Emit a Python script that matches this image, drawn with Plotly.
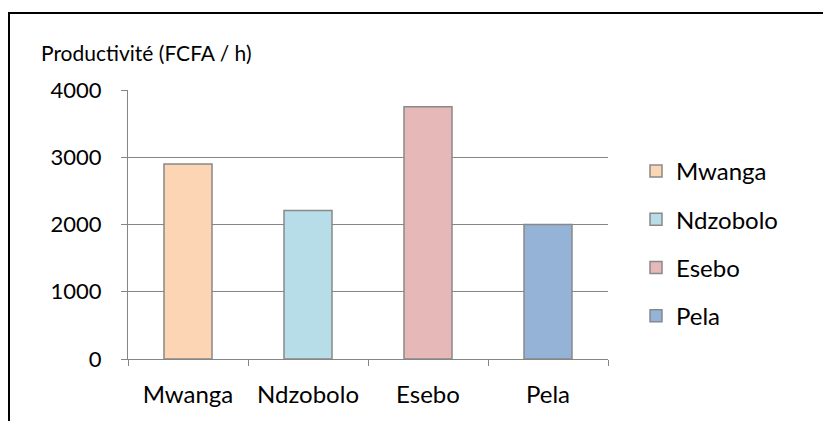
import plotly.graph_objects as go

categories = ["Mwanga", "Ndzobolo", "Esebo", "Pela"]
values = [2900, 2210, 3750, 2000]
colors = ["#FCD5B5", "#B7DEE8", "#E6B9B8", "#95B3D7"]
y_ticks = [0, 1000, 2000, 3000, 4000]
y_title = "Productivité (FCFA / h)"

FONT = "Lato, 'Open Sans', sans-serif"

fig = go.Figure()
for i, (c, v, col) in enumerate(zip(categories, values, colors)):
    fig.add_trace(go.Bar(
        x=[c], y=[v], name=c, width=0.4,
        marker=dict(color=col, line=dict(color="#898989", width=1.5)),
        legendgroup=f"g{i}",
    ))

OFF = 8  # default body margin of the html page
W, H = 831 - OFF, 429 - 2 * OFF
L, R, T, B = 128 - OFF, 608 - OFF, 90 - OFF, 359 - OFF
fig.update_layout(
    width=W, height=H,
    margin=dict(l=L, r=W - R, t=T, b=H - B),
    paper_bgcolor="white", plot_bgcolor="white",
    barmode="overlay",
    font=dict(family=FONT, size=24, color="black"),
    legend=dict(x=(636 - OFF - L) / (R - L), y=(B - (149 - OFF)) / (B - T), xanchor="left", yanchor="top",
                tracegroupgap=14, font=dict(size=24), bgcolor="rgba(0,0,0,0)",
                itemwidth=30),
    showlegend=True,
)
fig.update_xaxes(
    categoryorder="array", categoryarray=categories,
    showline=True, linecolor="#868686", linewidth=1,
    ticks="outside", tickson="boundaries", ticklen=6, tickcolor="#868686",
    showgrid=False, tickfont=dict(size=24), ticklabelstandoff=14,
)
fig.update_yaxes(
    range=[0, 4000], tickvals=y_ticks,
    showline=True, linecolor="#868686", linewidth=1,
    ticks="outside", ticklen=6, tickcolor="#868686",
    showgrid=True, gridcolor="#868686", gridwidth=1,
    tickfont=dict(size=22), zeroline=False, ticklabelstandoff=15,
)
fig.add_annotation(
    text=y_title, xref="paper", yref="paper",
    x=(39 - OFF - L) / (R - L), y=(B - (52 - OFF)) / (B - T), xanchor="left", yanchor="middle",
    showarrow=False, font=dict(size=21, family=FONT),
)
# outer frame: left and top edges only (others lie outside the picture)
bx0 = (9 - OFF - L) / (R - L)
bx1 = (900 - OFF - L) / (R - L)
by0 = (B - 460) / (B - T)
by1 = (B - (13 - OFF)) / (B - T)
fig.add_shape(
    type="path", xref="paper", yref="paper",
    path=f"M {bx0},{by0} L {bx0},{by1} L {bx1},{by1}",
    line=dict(color="black", width=2), layer="above",
)
fig.write_html("out.html")
